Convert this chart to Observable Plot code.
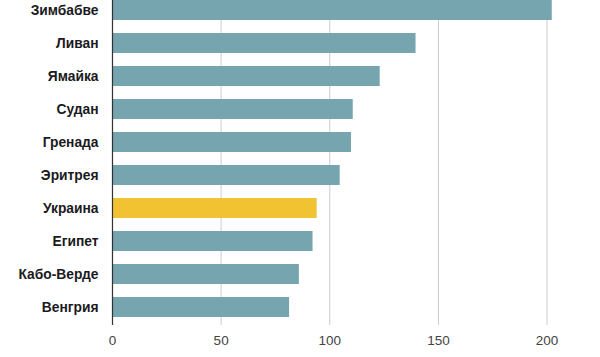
<!DOCTYPE html>
<html>
<head>
<meta charset="utf-8">
<script src="https://cdn.jsdelivr.net/npm/d3@7"></script>
<script src="https://cdn.jsdelivr.net/npm/@observablehq/plot@0.6"></script>
<style>
  html, body { margin: 0; padding: 0; background: #fff; }
  #chart svg { display: block; }
</style>
</head>
<body>
<div id="chart"></div>
<script>
const countries = ["Зимбабве", "Ливан", "Ямайка", "Судан", "Гренада", "Эритрея", "Украина", "Египет", "Кабо-Верде", "Венгрия"];
const values = [202.4, 139.7, 123.2, 110.8, 110.0, 104.8, 94.2, 92.3, 86.0, 81.5];
const highlighted = ["Украина"];
const xTicks = [0, 50, 100, 150, 200];

const data = countries.map((c, i) => ({country: c, value: values[i], hi: highlighted.includes(c)}));

const chart = Plot.plot({
  width: 600,
  height: 357,
  marginLeft: 112,
  marginRight: 10,
  marginTop: 0,
  marginBottom: 32,
  style: {fontFamily: "Liberation Sans, Arial, sans-serif", background: "#fff"},
  x: {domain: [0, 220], ticks: xTicks},
  y: {domain: countries, paddingInner: 0.39, paddingOuter: 0.117, align: 0},
  marks: [
    Plot.ruleX(xTicks.filter(t => t !== 0), {stroke: "#cccccc", strokeWidth: 1}),
    Plot.barX(data, {
      x: "value",
      y: "country",
      fill: d => d.hi ? "#f1c232" : "#76a5af"
    }),
    Plot.ruleX([0], {stroke: "#333", strokeWidth: 1.2}),
    Plot.axisX({
      ticks: xTicks,
      tickSize: 0,
      tickPadding: 10,
      fontSize: 13.5,
      color: "#444",
      label: null
    }),
    Plot.axisY({
      tickSize: 0,
      tickPadding: 14,
      fontSize: 13.8,
      fontWeight: "bold",
      color: "#1a1a22",
      label: null
    })
  ]
});
document.getElementById("chart").append(chart);
</script>
</body>
</html>
